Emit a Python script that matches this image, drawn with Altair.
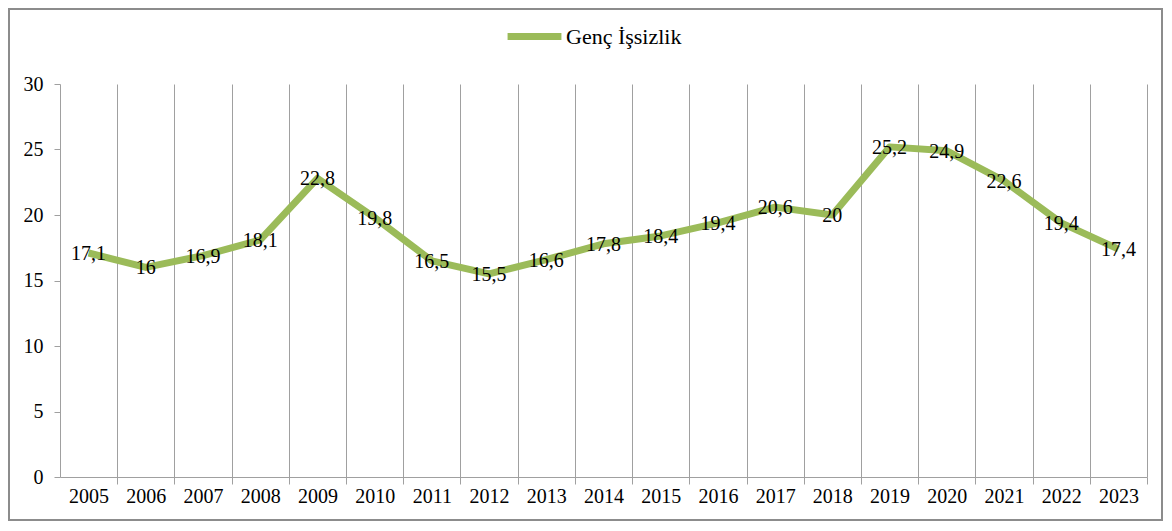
import altair as alt
import pandas as pd

years = list(range(2005, 2024))
values = [17.1, 16, 16.9, 18.1, 22.8, 19.8, 16.5, 15.5, 16.6, 17.8, 18.4, 19.4, 20.6, 20, 25.2, 24.9, 22.6, 19.4, 17.4]
series_name = "Genç İşsizlik"

df = pd.DataFrame({"year": years, "value": values, "series": [series_name] * len(years)})

W, H = 1087, 393
FONT = "Liberation Serif"
# year ticks (labelled) and the right-hand boundary of each year (grid lines)
axis_values = []
for yr in years:
    axis_values += [yr, yr + 0.5]
is_boundary = "datum.value % 1 != 0"

x_scale = alt.Scale(domain=[years[0] - 0.5, years[-1] + 0.5], nice=False, zero=False)
y_scale = alt.Scale(domain=[0, 30], nice=False)

x = alt.X(
    "year:Q",
    scale=x_scale,
    axis=alt.Axis(
        values=axis_values,
        title=None,
        grid=True,
        gridColor="#a0a0a0",
        gridWidth=1,
        gridOpacity={"condition": {"test": is_boundary, "value": 1}, "value": 0},
        ticks=True,
        tickSize=7,
        tickColor="#a0a0a0",
        tickOpacity={"condition": {"test": is_boundary, "value": 1}, "value": 0},
        domainColor="#a0a0a0",
        labelExpr="(datum.value % 1 == 0) ? toString(datum.value) : ''",
        labelFont=FONT,
        labelFontSize=20,
        labelColor="black",
        labelPadding=2,
        labelFlush=False,
        labelOverlap="parity",
        labelBound=False,
    ),
)
y = alt.Y(
    "value:Q",
    scale=y_scale,
    axis=alt.Axis(
        values=[0, 5, 10, 15, 20, 25, 30],
        title=None,
        grid=False,
        tickSize=6,
        tickColor="#a0a0a0",
        domainColor="#a0a0a0",
        labelFont=FONT,
        labelFontSize=20,
        labelColor="black",
        labelPadding=11,
    ),
)

line = alt.Chart(df).mark_line(strokeWidth=7, strokeCap="butt", strokeJoin="round").encode(
    x=x,
    y=y,
    color=alt.Color(
        "series:N",
        scale=alt.Scale(range=["#9BBB59"]),
        legend=alt.Legend(
            title=None,
            orient="none",
            legendX=444,
            legendY=-78,
            direction="horizontal",
            symbolType="stroke",
            symbolStrokeWidth=7,
            symbolSize=2900,
            labelFont=FONT,
            labelFontSize=22,
            labelColor="black",
            labelOffset=1,
        ),
    ),
)

labels = alt.Chart(df).transform_calculate(
    lab="replace(toString(datum.value), '.', ',')"
).mark_text(font=FONT, fontSize=20, color="black", baseline="middle", align="center", dy=1).encode(
    x=x,
    y=y,
    text="lab:N",
)

border = alt.Chart(df).mark_rect(fill="transparent", stroke="#8c8c8c", strokeWidth=2).encode(
    x=alt.value(-51), x2=alt.value(W + 15), y=alt.value(-75), y2=alt.value(H + 43)
)

chart = alt.layer(line, labels, border).properties(
    width=W,
    height=H,
    autosize=alt.AutoSizeParams(type="none"),
    padding={"left": 52, "top": 76, "right": 17, "bottom": 45},
    background="white",
).configure_view(stroke=None)

chart.save("out.html", embed_options={"renderer": "svg", "actions": False})
